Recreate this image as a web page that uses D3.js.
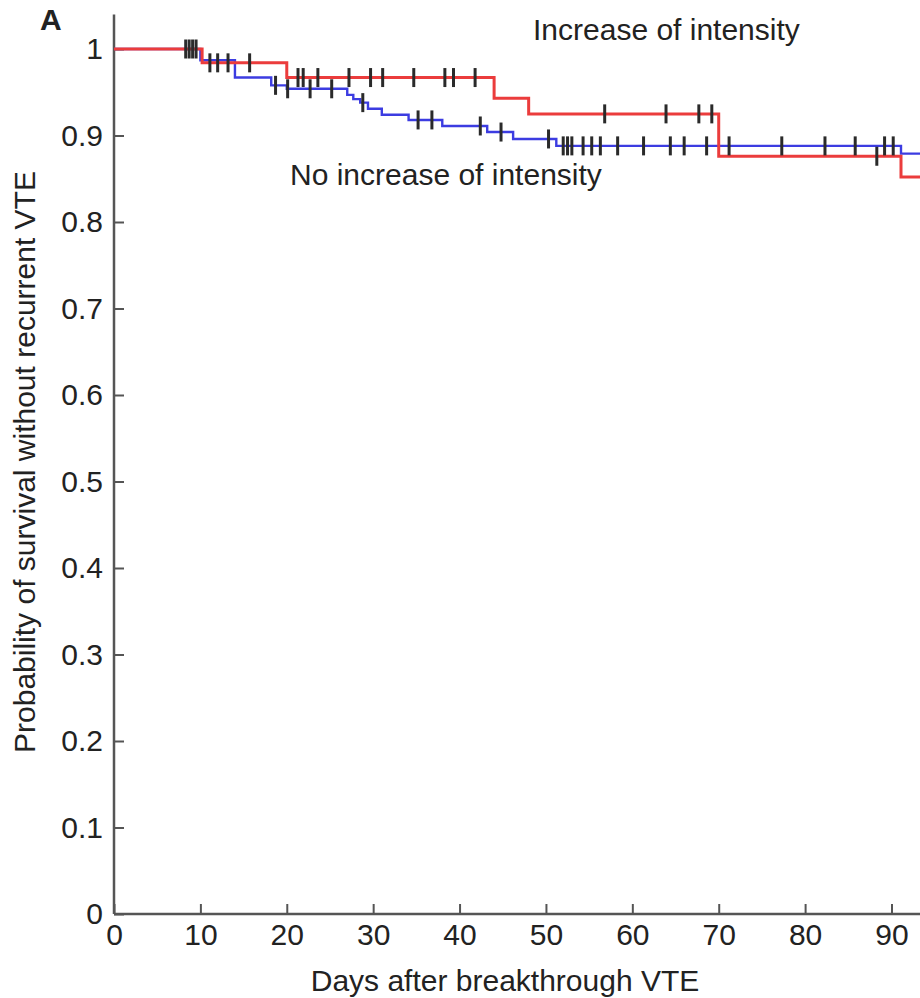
<!DOCTYPE html>
<html>
<head>
<meta charset="utf-8">
<script src="https://cdn.jsdelivr.net/npm/d3@7"></script>
<style>
  body { margin: 0; background: #fff; }
  text { font-family: "Liberation Sans", Arial, Helvetica, sans-serif; fill: #222; }
</style>
</head>
<body>
<div id="km"></div>
<script>
// Kaplan-Meier steps (days, survival)
var redTimes = [0, 10.2, 20.0, 44.0, 48.0, 70.0, 91.1];
var redSurv  = [1, 0.984, 0.967, 0.943, 0.925, 0.876, 0.852];
var blueTimes = [0, 10.0, 14.0, 18.2, 20.0, 27.0, 27.7, 28.5, 29.4, 31.0, 34.1, 38.0, 43.2, 46.2, 51.2, 91.1];
var blueSurv  = [1, 0.987, 0.967, 0.958, 0.954, 0.947, 0.942, 0.938, 0.931, 0.924, 0.918, 0.911, 0.904, 0.896, 0.888, 0.879];

// censored observations (days)
var redCensor = [8.3, 8.7, 9.1, 9.5, 11.1, 12.0, 13.2, 15.7, 21.3, 21.9, 23.6, 27.2, 29.7, 31.1,
                 34.7, 38.3, 39.3, 41.8, 56.8, 63.9, 67.7, 69.2, 88.3];
var blueCensor = [18.7, 20.1, 22.7, 25.2, 28.8, 35.2, 36.8, 42.4, 44.8, 50.3, 52.0, 52.5, 53.0, 54.3,
                  55.3, 56.3, 58.3, 61.3, 64.4, 66.0, 68.6, 71.2, 77.3, 82.3, 85.8, 89.2, 90.2];

var xTicks = [0, 10, 20, 30, 40, 50, 60, 70, 80, 90];
var yTicks = [0, 0.1, 0.2, 0.3, 0.4, 0.5, 0.6, 0.7, 0.8, 0.9, 1];
var xMax = 93.3, yTop = 1.04;

var w = 920, h = 998;

var svg = d3.select("#km")
    .append("svg")
    .attr("width", w)
    .attr("height", h);

var x = d3.scaleLinear().domain([0, xMax]).range([114, 920]);
var y = d3.scaleLinear().domain([0, 1]).range([914, 49]);

function survAt(times, surv, t) {
  var i = d3.bisectRight(times, t) - 1;
  return surv[Math.max(0, i)];
}

function stepPoints(times, surv) {
  var pts = times.map(function(t, i) { return [t, surv[i]]; });
  pts.push([xMax, surv[surv.length - 1]]);
  return pts;
}

var line = d3.line()
    .x(function(d) { return x(d[0]); })
    .y(function(d) { return y(d[1]); })
    .curve(d3.curveStepAfter);

// axes
var xAxis = d3.axisBottom(x).tickValues(xTicks).tickSizeInner(-10).tickSizeOuter(0).tickPadding(10)
    .tickFormat(d3.format("d"));
var yAxis = d3.axisLeft(y).tickValues(yTicks).tickSizeInner(-10).tickSizeOuter(0).tickPadding(11)
    .tickFormat(function(d) { return d === 0 || d === 1 ? String(d) : d3.format(".1f")(d); });

var gx = svg.append("g").attr("transform", "translate(0," + y(0) + ")").call(xAxis);
var gy = svg.append("g").attr("transform", "translate(" + x(0) + ",0)").call(yAxis);

[gx, gy].forEach(function(g) {
  g.select(".domain").remove();
  g.selectAll(".tick line").attr("stroke", "#555").attr("stroke-width", 2);
  g.selectAll(".tick text").style("font-size", "30px").attr("fill", "#222");
});

svg.append("line")
    .attr("x1", x(0)).attr("x2", x(xMax))
    .attr("y1", y(0)).attr("y2", y(0))
    .attr("stroke", "#555").attr("stroke-width", 2.5);
svg.append("line")
    .attr("x1", x(0)).attr("x2", x(0))
    .attr("y1", y(0)).attr("y2", y(yTop))
    .attr("stroke", "#555").attr("stroke-width", 2.5);

// curves
svg.append("path")
    .attr("d", line(stepPoints(blueTimes, blueSurv)))
    .attr("fill", "none")
    .attr("stroke", "rgb(60,60,225)")
    .attr("stroke-width", 2.4);

svg.append("path")
    .attr("d", line(stepPoints(redTimes, redSurv)))
    .attr("fill", "none")
    .attr("stroke", "rgb(235,60,60)")
    .attr("stroke-width", 3);

// censor marks
function censorMarks(times, surv, cens) {
  svg.append("g").selectAll("line")
      .data(cens)
      .enter()
      .append("line")
      .attr("x1", function(d) { return x(d); })
      .attr("x2", function(d) { return x(d); })
      .attr("y1", function(d) { return y(survAt(times, surv, d)) - 9.5; })
      .attr("y2", function(d) { return y(survAt(times, surv, d)) + 9.5; })
      .attr("stroke", "#2a2a2a")
      .attr("stroke-width", 3);
}
censorMarks(blueTimes, blueSurv, blueCensor);
censorMarks(redTimes, redSurv, redCensor);

// labels
svg.append("text").attr("x", 533).attr("y", 40).style("font-size", "30px").text("Increase of intensity");
svg.append("text").attr("x", 290).attr("y", 185).style("font-size", "30px").text("No increase of intensity");

svg.append("text")
    .attr("x", 505).attr("y", 991)
    .attr("text-anchor", "middle")
    .style("font-size", "30px")
    .text("Days after breakthrough VTE");

svg.append("text")
    .attr("transform", "translate(35,462) rotate(-90)")
    .attr("text-anchor", "middle")
    .style("font-size", "30px")
    .text("Probability of survival without recurrent VTE");

svg.append("text")
    .attr("x", 40).attr("y", 30)
    .style("font-size", "30px")
    .style("font-weight", "bold")
    .attr("fill", "#111")
    .text("A");
</script>
</body>
</html>
